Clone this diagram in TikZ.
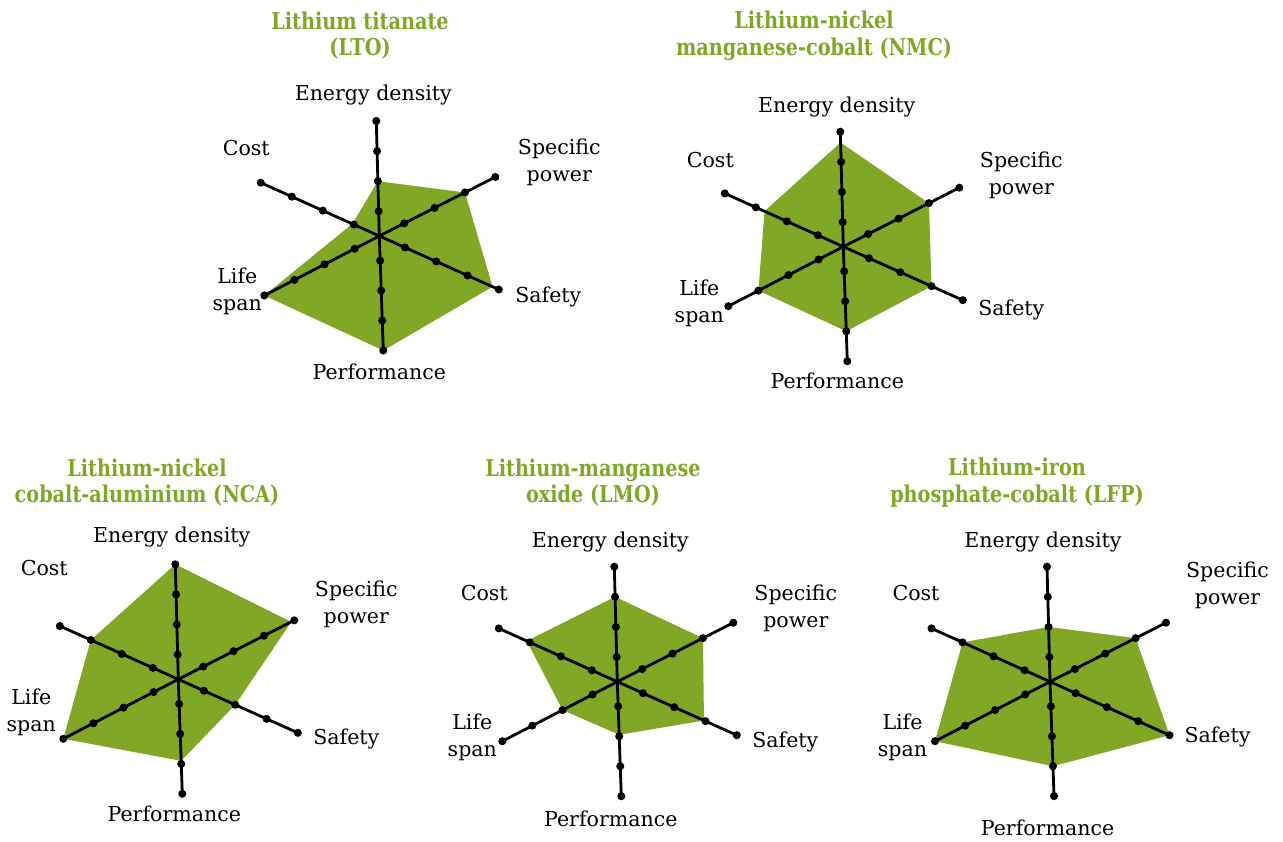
\documentclass[tikz,border=0pt]{standalone}
\usepackage{fontspec}
\setmainfont{DejaVu Serif}
\newfontfamily\titlefont[FakeStretch=0.83]{DejaVu Serif Bold}
\usetikzlibrary{calc}

\definecolor{leafgreen}{RGB}{128,168,38}

\tikzset{
  axisline/.style = {line width=1.6pt},
  areafill/.style = {fill=leafgreen},
  axislabel/.style = {font=\fontsize{11.7}{15.3}\selectfont, align=center, inner sep=0pt},
  charttitle/.style = {font=\titlefont\fontsize{13.2}{15.3}\selectfont, text=leafgreen,
                       align=center, inner sep=0pt}
}

% #1 centre; #2..#7 levels (0..4) for energy, specific power, safety,
% performance, life span, cost
\newcommand\radarchart[7]{%
  \path (#1) ++(-3,-115)      coordinate (#1-ed)
        (#1) ++(116,-59)      coordinate (#1-sp)
        (#1) ++(119.5,53.5)   coordinate (#1-sa)
        (#1) ++(4,114.5)      coordinate (#1-pf)
        (#1) ++(-115,59.5)    coordinate (#1-ls)
        (#1) ++(-118.5,-53.3) coordinate (#1-co);
  \fill[areafill] ($(#1)!{(#2-0.18)/3.82}!(#1-ed)$)
               -- ($(#1)!{(#3-0.18)/3.82}!(#1-sp)$)
               -- ($(#1)!{(#4-0.18)/3.82}!(#1-sa)$)
               -- ($(#1)!{(#5-0.18)/3.82}!(#1-pf)$)
               -- ($(#1)!{(#6-0.18)/3.82}!(#1-ls)$)
               -- ($(#1)!{(#7-0.18)/3.82}!(#1-co)$) -- cycle;
  \foreach \a in {ed,sp,sa,pf,ls,co}{
    \draw[axisline] (#1) -- (#1-\a);
    \foreach \n in {1,...,4}
      \fill ($(#1)!{(\n-0.18)/3.82}!(#1-\a)$) circle (2.3pt);
  }
}

\begin{document}
\begin{tikzpicture}[x=0.02cm,y=-0.02cm]
  \path[fill=white,use as bounding box] (0,0) rectangle (1283,841);

  \coordinate (lto) at (379.3,236);
  \coordinate (nmc) at (843.3,246.7);
  \coordinate (nca) at (178.3,679.3);
  \coordinate (lmo) at (617.3,681.7);
  \coordinate (lfp) at (1050,681.7);

  \radarchart{lto}{2}{3}{3.8}{4}{4}{1.05}
  \radarchart{nmc}{3.64}{3}{3}{3}{3}{2.72}
  \radarchart{nca}{4}{3.9}{2}{2.9}{4}{3}
  \radarchart{lmo}{3}{3}{2.95}{1.95}{2}{3.1}
  \radarchart{lfp}{2}{3}{4}{3}{4}{3}

  % titles
  \node[charttitle] (lto-title) at (360,35.5)   {Lithium titanate\\(LTO)};
  \node[charttitle] (nmc-title) at (814,35.5)   {Lithium-nickel\\manganese-cobalt (NMC)};
  \node[charttitle] (nca-title) at (147,482.5)  {Lithium-nickel\\cobalt-aluminium (NCA)};
  \node[charttitle] (lmo-title) at (593,482.5)  {Lithium-manganese\\oxide (LMO)};
  \node[charttitle] (lfp-title) at (1017,482.5) {Lithium-iron\\phosphate-cobalt (LFP)};

  % axis labels
  \path (lto) ++(-6,-141)  node[axislabel] (lto-led) {Energy density}
        (lto) ++(180,-74)  node[axislabel] (lto-lsp) {Specific\\power}
        (lto) ++(169,61)   node[axislabel] (lto-lsa) {Safety}
        (lto) ++(0,136)    node[axislabel] (lto-lpf) {Performance}
        (lto) ++(-142,55)  node[axislabel] (lto-lls) {Life\\span}
        (lto) ++(-133,-88) node[axislabel] (lto-lco) {Cost};
  \path (nmc) ++(-6.6,-140) node[axislabel] (nmc-led) {Energy density}
        (nmc) ++(178,-71)   node[axislabel] (nmc-lsp) {Specific\\power}
        (nmc) ++(168,63)    node[axislabel] (nmc-lsa) {Safety}
        (nmc) ++(-6,134)    node[axislabel] (nmc-lpf) {Performance}
        (nmc) ++(-144,57)   node[axislabel] (nmc-lls) {Life\\span}
        (nmc) ++(-133,-87)  node[axislabel] (nmc-lco) {Cost};
  \path (nca) ++(-6.6,-142) node[axislabel] (nca-led) {Energy density}
        (nca) ++(178,-75)   node[axislabel] (nca-lsp) {Specific\\power}
        (nca) ++(168,60)    node[axislabel] (nca-lsa) {Safety}
        (nca) ++(-4,135)    node[axislabel] (nca-lpf) {Performance}
        (nca) ++(-147,33)   node[axislabel] (nca-lls) {Life\\span}
        (nca) ++(-134,-111) node[axislabel] (nca-lco) {Cost};
  \path (lmo) ++(-7,-140)   node[axislabel] (lmo-led) {Energy density}
        (lmo) ++(178.5,-73) node[axislabel] (lmo-lsp) {Specific\\power}
        (lmo) ++(168,60)    node[axislabel] (lmo-lsa) {Safety}
        (lmo) ++(-6.5,137)  node[axislabel] (lmo-lpf) {Performance}
        (lmo) ++(-145,56)   node[axislabel] (lmo-lls) {Life\\span}
        (lmo) ++(-133,-89)  node[axislabel] (lmo-lco) {Cost};
  \path (lfp) ++(-7,-140)   node[axislabel] (lfp-led) {Energy density}
        (lfp) ++(177.5,-96) node[axislabel] (lfp-lsp) {Specific\\power}
        (lfp) ++(167.5,55)  node[axislabel] (lfp-lsa) {Safety}
        (lfp) ++(-2.5,146)  node[axislabel] (lfp-lpf) {Performance}
        (lfp) ++(-147.5,56) node[axislabel] (lfp-lls) {Life\\span}
        (lfp) ++(-134,-89)  node[axislabel] (lfp-lco) {Cost};
\end{tikzpicture}
\end{document}
